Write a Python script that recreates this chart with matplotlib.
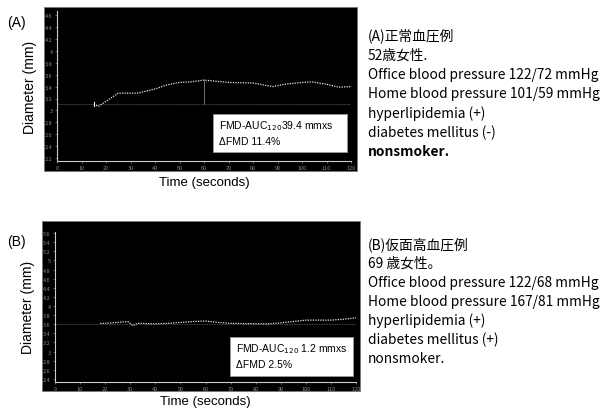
import numpy as np
import matplotlib
matplotlib.use("Agg")
import matplotlib.pyplot as plt
from matplotlib.patches import Rectangle

plt.rcParams['font.family'] = ['Noto Sans CJK JP', 'DejaVu Sans']

# panel A: normotensive case
a_time = [15, 17, 25, 33, 40, 45, 50, 55, 60, 65, 70, 80, 88, 93, 100, 104, 110, 115, 120]
a_diam = [3.10, 3.07, 3.29, 3.29, 3.36, 3.43, 3.47, 3.48, 3.51, 3.49, 3.47, 3.46,
          3.40, 3.44, 3.47, 3.48, 3.44, 3.39, 3.40]
a_base = 3.10
a_yticks = [2.2, 2.4, 2.6, 2.8, 3, 3.2, 3.4, 3.6, 3.8, 4, 4.2, 4.4, 4.6]

# panel B: masked hypertension case
b_time = [18, 20, 25, 29, 31, 33, 40, 45, 50, 55, 60, 65, 70, 80, 85, 90, 95, 100, 110, 115, 120]
b_diam = [3.62, 3.62, 3.64, 3.66, 3.57, 3.62, 3.61, 3.62, 3.64, 3.66, 3.67, 3.64,
          3.62, 3.61, 3.61, 3.63, 3.66, 3.69, 3.69, 3.71, 3.74]
b_base = 3.61
b_yticks = [2.4, 2.6, 2.8, 3, 3.2, 3.4, 3.6, 3.8, 4, 4.2, 4.4, 4.6, 4.8, 5, 5.2, 5.4, 5.6]

x_ticks = list(range(0, 121, 10))

a_box = ["FMD-AUC$_{120}$39.4 mmxs", "ΔFMD 11.4%"]
b_box = ["FMD-AUC$_{120}$ 1.2 mmxs", "ΔFMD 2.5%"]

a_text = ["(A)正常血圧例", "52歳女性.", "Office blood pressure 122/72 mmHg",
          "Home blood pressure 101/59 mmHg", "hyperlipidemia (+)",
          "diabetes mellitus (-)", "nonsmoker."]
b_text = ["(B)仮面高血圧例", "69 歳女性。", "Office blood pressure 122/68 mmHg",
          "Home blood pressure 167/81 mmHg", "hyperlipidemia (+)",
          "diabetes mellitus (+)", "nonsmoker."]

W, H = 603, 410
fig = plt.figure(figsize=(W / 100, H / 100), dpi=100)


def px(x0, y0, x1, y1):
    # pixel box (top-left origin) -> figure fraction
    return [x0 / W, 1 - y1 / H, (x1 - x0) / W, (y1 - y0) / H]


def panel(frame, box, ylim, yticks, t, d, base, label, lab_y, time_y, tbox, tlines):
    r = px(*frame)
    fig.patches.append(Rectangle((r[0], r[1]), r[2], r[3], transform=fig.transFigure,
                                 facecolor='black', edgecolor='#777777', lw=0.6, zorder=-1))
    ax = fig.add_axes(px(*box))
    ax.set_facecolor('black')
    ax.set_xlim(0, 120)
    ax.set_ylim(*ylim)
    for s in ['top', 'right']:
        ax.spines[s].set_visible(False)
    for s in ['left', 'bottom']:
        ax.spines[s].set_color('#cccccc')
        ax.spines[s].set_linestyle((0, (1, 1)))
        ax.spines[s].set_linewidth(0.8)
    ax.set_xticks(x_ticks)
    ax.set_xticklabels([str(v) for v in x_ticks])
    ax.set_yticks(yticks)
    ax.set_yticklabels([f"{v:g}" for v in yticks])
    ax.tick_params(colors='#888888', labelsize=4, length=1.5, width=0.5, pad=1.5)
    ax.axhline(base, color='#666666', lw=0.6, ls=(0, (1, 1)))
    ax.plot(t, d, color='#e8e8e8', lw=0.9, ls=(0, (1, 1)))
    fig.text(0.012, 1 - lab_y / H, label, fontsize=10, family='Liberation Sans', va='center')
    ax.set_ylabel("Diameter (mm)", fontsize=10, family='Liberation Sans', labelpad=6)
    fig.text((box[0] + box[2]) / 2 / W, 1 - time_y / H, "Time (seconds)", fontsize=9.5,
             family='Liberation Sans', ha='center', va='center')
    b = px(*tbox)
    fig.patches.append(Rectangle((b[0], b[1]), b[2], b[3], transform=fig.transFigure,
                                 facecolor='white', edgecolor='#999999', lw=0.6, zorder=5))
    for i, s in enumerate(tlines):
        fig.text(b[0] + 6 / W, 1 - (tbox[1] + 11 + i * 16) / H, s, fontsize=7.5,
                 family='Liberation Sans', va='center', zorder=6)
    return ax


ax_a = panel((44, 8, 357, 172), (57, 12, 351, 162), (2.15, 4.67), a_yticks,
             a_time, a_diam, a_base, "(A)", 23, 183, (213, 115, 347, 153), a_box)
ax_a.plot([60, 60], [a_base, max(a_diam)], color='#999999', lw=0.5)
ax_a.plot([15, 15], [3.07, 3.14], color='white', lw=0.8)

ax_b = panel((42, 222, 360, 392), (55, 232, 356, 383), (2.334, 5.644), b_yticks,
             b_time, b_diam, b_base, "(B)", 242, 402, (230, 338, 353, 377), b_box)

for i, s in enumerate(a_text):
    fig.text(368 / W, 1 - (36 + i * 19.3) / H, s, fontsize=9.9, va='center',
             fontweight='bold' if i == 6 else 'normal')
for i, s in enumerate(b_text):
    fig.text(368 / W, 1 - (245 + i * 19) / H, s, fontsize=9.9, va='center')

fig.savefig("out.png", dpi=100)
